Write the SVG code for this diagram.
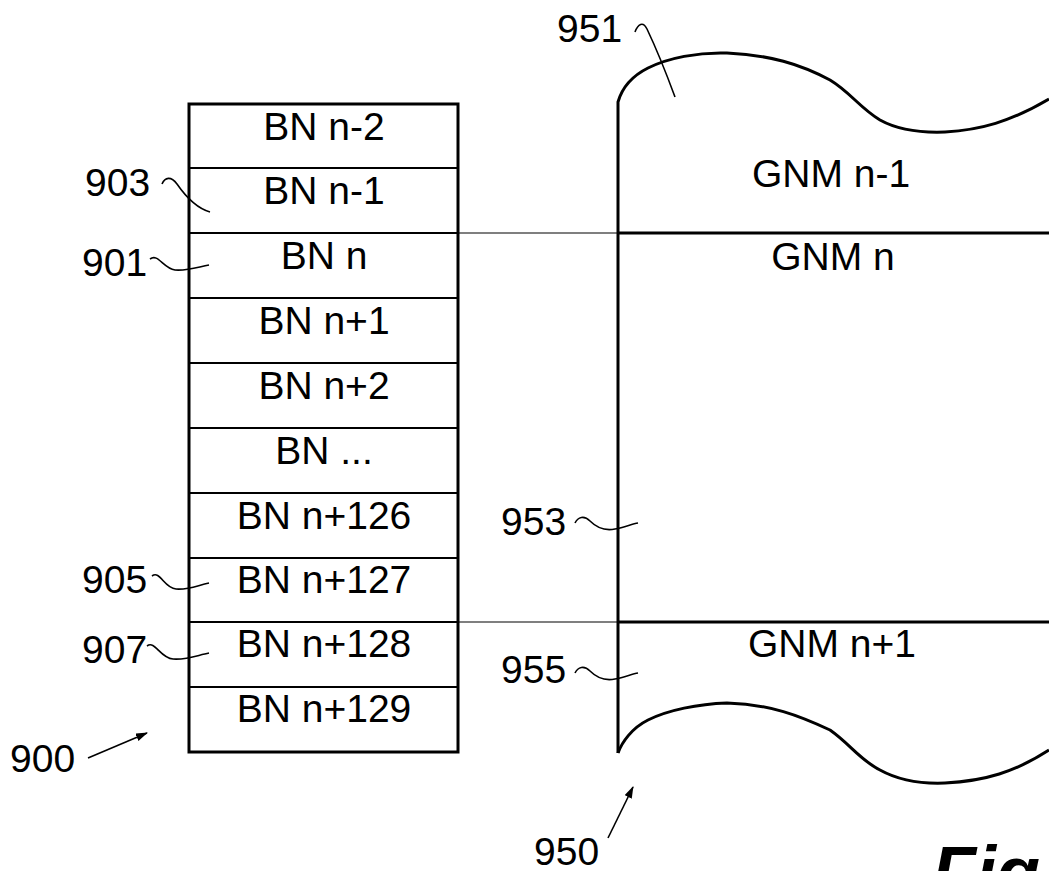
<svg xmlns="http://www.w3.org/2000/svg" width="1049" height="871" viewBox="0 0 1049 871">
<style>
.t{font-family:"Liberation Sans",Arial,sans-serif;font-size:39px;fill:#000}
.c{text-anchor:middle}
.lead{fill:none;stroke:#000;stroke-width:1.6}
.div{stroke:#000;stroke-width:2;fill:none}
.thin{stroke:#000;stroke-width:1.2;fill:none}
.thick{stroke:#000;stroke-width:3;fill:none}
</style>
<defs>
<marker id="ah" markerWidth="12" markerHeight="8" refX="11" refY="4" orient="auto" markerUnits="userSpaceOnUse">
<path d="M0,0 L12,4 L0,8 Z" fill="#000"/>
</marker>
</defs>
<rect width="1049" height="871" fill="#fff"/>

<g id="stack900">
<rect x="189" y="104" width="269" height="648" class="thick"/>
<g id="bn-n-2"><text class="t c" x="324" y="140">BN n-2</text></g>
<line x1="189" y1="168" x2="458" y2="168" class="div"/>
<g id="bn-n-1"><text class="t c" x="324" y="204">BN n-1</text></g>
<line x1="189" y1="233" x2="458" y2="233" class="div"/>
<g id="bn-n"><text class="t c" x="324" y="269">BN n</text></g>
<line x1="189" y1="298" x2="458" y2="298" class="div"/>
<g id="bn-n1"><text class="t c" x="324" y="334">BN n+1</text></g>
<line x1="189" y1="363" x2="458" y2="363" class="div"/>
<g id="bn-n2"><text class="t c" x="324" y="399">BN n+2</text></g>
<line x1="189" y1="428" x2="458" y2="428" class="div"/>
<g id="bn-dots"><text class="t c" x="324" y="464">BN ...</text></g>
<line x1="189" y1="493" x2="458" y2="493" class="div"/>
<g id="bn-n126"><text class="t c" x="324" y="529">BN n+126</text></g>
<line x1="189" y1="558" x2="458" y2="558" class="div"/>
<g id="bn-n127"><text class="t c" x="324" y="593">BN n+127</text></g>
<line x1="189" y1="622" x2="458" y2="622" class="div"/>
<g id="bn-n128"><text class="t c" x="324" y="657">BN n+128</text></g>
<line x1="189" y1="687" x2="458" y2="687" class="div"/>
<g id="bn-n129"><text class="t c" x="324" y="722">BN n+129</text></g>
</g>

<g id="map950">
<path class="thick" d="M618,753 L618,102 C622,88 632,76 648,68 C668,58 698,52 727,53 C770,55 800,64 830,80 C850,92 860,108 880,120 C898,130 918,133 945,132 C980,130 1010,122 1049,99"/>
<path class="thick" d="M618,753 C622,742 632,728 648,720 C668,710 698,704 727,703 C770,704 800,716 830,730 C850,744 860,760 880,770 C898,780 920,784 945,783 C985,781 1015,772 1049,750"/>
<line x1="618" y1="233" x2="1049" y2="233" class="thick"/>
<line x1="618" y1="622" x2="1049" y2="622" class="thick"/>
<g id="gnm-n-1"><text class="t c" x="831" y="187">GNM n-1</text></g>
<g id="gnm-n"><text class="t c" x="833" y="270">GNM n</text></g>
<g id="gnm-n1"><text class="t c" x="832" y="657">GNM n+1</text></g>
</g>

<g id="connectors">
<line x1="458" y1="233" x2="618" y2="233" class="thin"/>
<line x1="458" y1="622" x2="618" y2="622" class="thin"/>
<path class="lead" d="M162,184 C165,177 171,176 177,184 C186,197 196,208 210,212"/>
<path class="lead" d="M150,259 C158,253 163,268 175,270 C188,271 198,267 209,265"/>
<path class="lead" d="M152,576 C160,570 164,588 176,589 C190,590 198,585 209,583"/>
<path class="lead" d="M147,646 C155,640 160,658 173,659 C188,660 198,655 209,653"/>
<path class="lead" d="M635,32 C638,24 643,21 647,29 C657,50 668,78 675,97"/>
<path class="lead" d="M575,523 C578,517 584,515 590,521 C597,528 605,531 615,529 C625,527 632,524 638,523"/>
<path class="lead" d="M575,673 C578,667 584,665 590,671 C597,678 605,681 615,679 C625,677 632,674 638,673"/>
<line x1="88" y1="758" x2="147" y2="733" class="lead" marker-end="url(#ah)"/>
<line x1="608" y1="838" x2="633" y2="787" class="lead" marker-end="url(#ah)"/>
</g>

<g id="labels">
<text class="t" x="85" y="196">903</text>
<text class="t" x="82" y="276">901</text>
<text class="t" x="82" y="593">905</text>
<text class="t" x="82" y="663">907</text>
<text class="t" x="10" y="772">900</text>
<text class="t" x="557" y="42">951</text>
<text class="t" x="501" y="535">953</text>
<text class="t" x="501" y="683">955</text>
<text class="t" x="534" y="865">950</text>
<text x="932" y="897" style="font-family:'Liberation Sans',Arial,sans-serif;font-size:72px;font-weight:bold;font-style:italic">Fig</text>
</g>
</svg>
